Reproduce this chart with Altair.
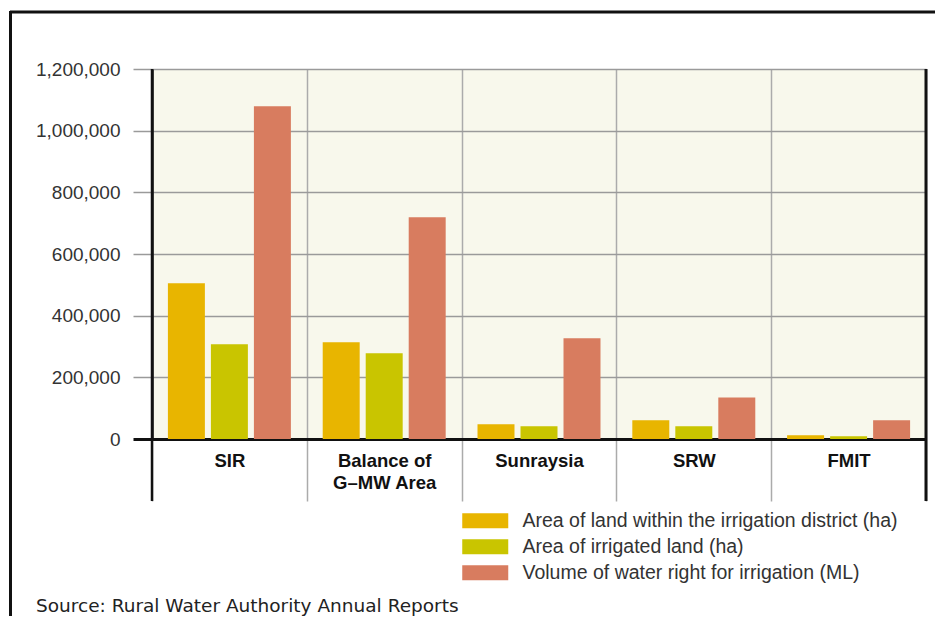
import altair as alt
import pandas as pd

categories = ["SIR", "Balance of G–MW Area", "Sunraysia", "SRW", "FMIT"]
series = [
    "Area of land within the irrigation district (ha)",
    "Area of irrigated land (ha)",
    "Volume of water right for irrigation (ML)",
]
land_district = [505000, 314000, 48000, 61000, 12000]
irrigated_land = [307000, 278000, 41000, 41000, 9000]
water_right = [1079000, 719000, 327000, 135000, 61000]
colors = ["#E8B500", "#C9C500", "#D87C5F"]
y_ticks = [0, 200000, 400000, 600000, 800000, 1000000, 1200000]
source_text = "Source: Rural Water Authority Annual Reports"

rows = []
for i, c in enumerate(categories):
    for s, vals in zip(series, [land_district, irrigated_land, water_right]):
        rows.append({"category": c, "series": s, "value": vals[i]})
df = pd.DataFrame(rows)

W, H = 774, 370
FONT = "Liberation Sans"

bars = alt.Chart(df).mark_bar().encode(
    x=alt.X(
        "category:N",
        sort=categories,
        scale=alt.Scale(paddingInner=0, paddingOuter=0),
        axis=alt.Axis(
            title=None,
            tickBand="extent",
            grid=True,
            gridColor="#ABABAB",
            gridWidth=1.5,
            ticks=True,
            tickSize=62,
            tickColor="#ABABAB",
            tickWidth=1.5,
            domainColor="#111111",
            domainWidth=3,
            labelFont=FONT,
            labelFontWeight="bold",
            labelFontSize=18.5,
            labelColor="#111111",
            labelPadding=-49.5,
            labelLineHeight=22,
            labelAngle=0,
            labelExpr="datum.value == 'Balance of G–MW Area' ? ['Balance of', 'G–MW Area'] : datum.label",
        ),
    ),
    xOffset=alt.XOffset(
        "series:N",
        sort=series,
        scale=alt.Scale(paddingInner=0.14, paddingOuter=0.37),
    ),
    y=alt.Y(
        "value:Q",
        scale=alt.Scale(domain=[0, 1200000], nice=False),
        axis=alt.Axis(
            title=None,
            values=y_ticks,
            format=",.0f",
            grid=True,
            gridColor="#9A9A9A",
            gridWidth=1.5,
            tickSize=19,
            tickColor={"condition": {"test": "datum.value === 0", "value": "#111111"}, "value": "#9A9A9A"},
            tickWidth={"condition": {"test": "datum.value === 0", "value": 3}, "value": 1.5},
            domainColor="#111111",
            domainWidth=2.5,
            labelFont=FONT,
            labelFontSize=19,
            labelColor="#333333",
            labelPadding=13,
        ),
    ),
    color=alt.Color(
        "series:N",
        sort=series,
        scale=alt.Scale(domain=series, range=colors),
        legend=alt.Legend(
            title=None,
            orient="none",
            legendX=323.5,
            legendY=442,
            symbolType="M-3.067,-1H3.067V1H-3.067Z",
            symbolSize=225,
            symbolStrokeWidth=0,
            labelFont=FONT,
            labelFontSize=19.5,
            labelColor="#333333",
            labelLimit=700,
            labelOffset=27.5,
            rowPadding=5,
            padding=0,
        ),
    ),
)

line_df = pd.DataFrame({"k": [0]})
left_line = alt.Chart(line_df).mark_rule(color="#111111", strokeWidth=2.5).encode(
    x=alt.value(0), y=alt.value(0), y2=alt.value(H + 62)
)
right_line = alt.Chart(line_df).mark_rule(color="#111111", strokeWidth=3).encode(
    x=alt.value(W), y=alt.value(0), y2=alt.value(H + 62)
)
frame_top = alt.Chart(line_df).mark_rule(color="#111111", strokeWidth=3).encode(
    x=alt.value(-142), x2=alt.value(W + 40), y=alt.value(-57)
)
frame_left = alt.Chart(line_df).mark_rule(color="#111111", strokeWidth=3).encode(
    x=alt.value(-141.5), y=alt.value(-58), y2=alt.value(H + 200)
)
src = alt.Chart(pd.DataFrame({"t": [source_text]})).mark_text(
    align="left", baseline="alphabetic", font="DejaVu Sans", fontSize=18.5, color="#222222"
).encode(x=alt.value(-116), y=alt.value(543), text="t:N")

chart = (
    alt.layer(bars, left_line, right_line, frame_top, frame_left, src)
    .properties(
        width=W,
        height=H,
        autosize=alt.AutoSizeParams(type="none"),
        padding={"left": 144, "top": 61, "right": 9, "bottom": 177},
        background="white",
    )
    .configure_view(fill="#F8F8EC", stroke=None)
)

chart.save("out.html", embed_options={"renderer": "svg", "actions": False})
